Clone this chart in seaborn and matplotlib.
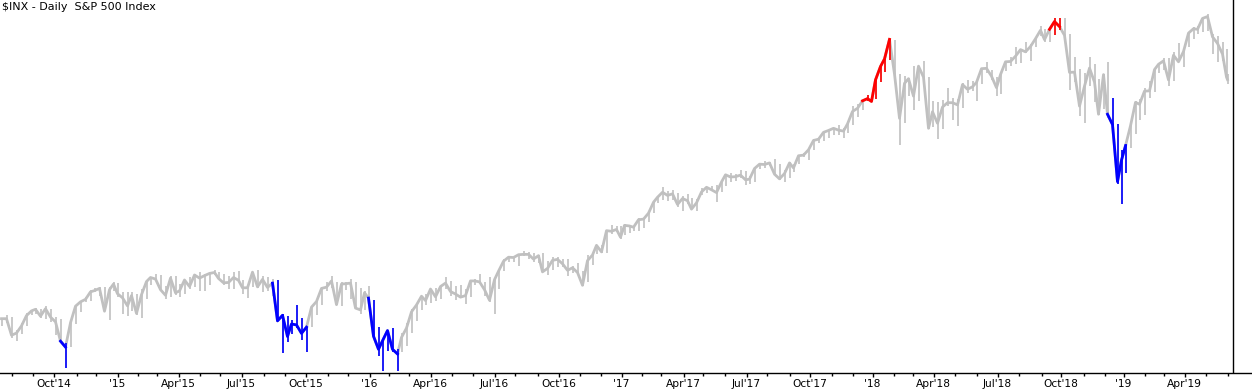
import numpy as np
import pandas as pd
import matplotlib
matplotlib.use("Agg")
import matplotlib.pyplot as plt
import seaborn as sns

# NYSE holidays inside the charted window
holidays = ["2014-09-01", "2014-11-27", "2014-12-25",
            "2015-01-01", "2015-01-19", "2015-02-16", "2015-04-03", "2015-05-25", "2015-07-03",
            "2015-09-07", "2015-11-26", "2015-12-25",
            "2016-01-01", "2016-01-18", "2016-02-15", "2016-03-25", "2016-05-30", "2016-07-04",
            "2016-09-05", "2016-11-24", "2016-12-26",
            "2017-01-02", "2017-01-16", "2017-02-20", "2017-04-14", "2017-05-29", "2017-07-04",
            "2017-09-04", "2017-11-23", "2017-12-25",
            "2018-01-01", "2018-01-15", "2018-02-19", "2018-03-30", "2018-05-28", "2018-07-04",
            "2018-09-03", "2018-11-22", "2018-12-05", "2018-12-25",
            "2019-01-01", "2019-01-21", "2019-02-18", "2019-04-19", "2019-05-27"]
first_day = "2014-07-17"

# weekly closes (Friday, or last trading day of the week)
close_2014 = [1978, 1978, 1925, 1932, 1955, 1988, 2003, 2008, 1986, 2010, 1983, 1968,
              1906, 1887, 1965, 2018, 2032, 2040, 2064, 2068, 2075, 2002, 2071, 2089]
close_2015 = [2058, 2045, 2019, 2052, 1995, 2055, 2097, 2110, 2105, 2071, 2053, 2108, 2061,
              2067, 2102, 2081, 2118, 2108, 2116, 2123, 2126, 2107, 2093, 2094, 2110, 2101,
              2077, 2077, 2127, 2080, 2104, 2078, 2092, 1971, 1989, 1921, 1961, 1958, 1931,
              1951, 2015, 2033, 2075, 2079, 2099, 2023, 2089, 2090, 2092, 2012, 2006, 2061]
close_2016 = [2044, 1922, 1880, 1907, 1940, 1880, 1865, 1918, 1948, 2000, 2022, 2050, 2036,
              2073, 2048, 2081, 2092, 2065, 2057, 2047, 2052, 2099, 2099, 2096, 2071, 2037,
              2103, 2130, 2162, 2175, 2174, 2183, 2184, 2184, 2169, 2180, 2128, 2139, 2165,
              2168, 2154, 2133, 2141, 2126, 2085, 2164, 2182, 2213, 2192, 2260, 2258, 2264, 2239]
close_2017 = [2277, 2275, 2271, 2295, 2297, 2316, 2351, 2367, 2383, 2373, 2378, 2344, 2363,
              2356, 2329, 2349, 2384, 2399, 2391, 2382, 2416, 2439, 2432, 2433, 2438, 2423,
              2425, 2459, 2473, 2472, 2477, 2441, 2426, 2443, 2477, 2461, 2500, 2502, 2519,
              2549, 2553, 2575, 2581, 2588, 2582, 2579, 2602, 2642, 2652, 2676, 2683, 2674]
close_2018 = [2743, 2786, 2810, 2873, 2762, 2620, 2732, 2747, 2691, 2787, 2752, 2588, 2641,
              2604, 2656, 2670, 2670, 2663, 2728, 2713, 2721, 2735, 2779, 2780, 2755, 2718,
              2760, 2801, 2802, 2819, 2840, 2833, 2850, 2875, 2902, 2872, 2905, 2930, 2914,
              2886, 2767, 2768, 2659, 2723, 2781, 2736, 2633, 2760, 2633, 2600, 2417, 2486]
close_2019 = [2532, 2596, 2671, 2665, 2707, 2708, 2776, 2793, 2804, 2743, 2822, 2801, 2834,
              2893, 2907, 2905, 2940, 2946, 2881, 2860, 2826, 2752, 2744]

high_2014 = [1981, 1991, 1985, 1943, 1964, 1995, 2005, 2011, 2008, 2019, 2009, 1985,
             1978, 1899, 1965, 2018, 2034, 2046, 2071, 2076, 2079, 2078, 2078, 2094]
high_2015 = [2091, 2064, 2064, 2065, 2058, 2072, 2097, 2111, 2120, 2118, 2083, 2115, 2115,
             2090, 2103, 2112, 2121, 2126, 2121, 2124, 2135, 2126, 2122, 2115, 2127, 2130,
             2102, 2084, 2129, 2133, 2114, 2113, 2105, 2103, 1993, 1987, 1975, 2021, 1980,
             1951, 2020, 2034, 2080, 2094, 2116, 2095, 2097, 2094, 2104, 2094, 2077, 2067]
high_2016 = [2082, 2038, 1950, 1909, 1940, 1947, 1882, 1931, 1963, 2009, 2022, 2052, 2057,
             2074, 2075, 2083, 2111, 2100, 2083, 2085, 2072, 2101, 2105, 2121, 2097, 2113,
             2104, 2132, 2169, 2176, 2177, 2183, 2194, 2193, 2188, 2183, 2188, 2163, 2175,
             2175, 2170, 2169, 2148, 2155, 2131, 2182, 2190, 2213, 2214, 2260, 2278, 2274, 2274]
high_2017 = [2282, 2279, 2276, 2301, 2299, 2319, 2351, 2368, 2401, 2388, 2390, 2382, 2370,
             2378, 2366, 2361, 2398, 2399, 2404, 2407, 2419, 2440, 2446, 2441, 2454, 2450,
             2435, 2464, 2478, 2484, 2480, 2491, 2475, 2455, 2480, 2472, 2500, 2509, 2519,
             2553, 2558, 2575, 2583, 2588, 2597, 2590, 2604, 2658, 2665, 2680, 2695, 2692]
high_2018 = [2743, 2788, 2810, 2873, 2870, 2763, 2754, 2748, 2789, 2787, 2802, 2752, 2675,
             2672, 2680, 2717, 2684, 2683, 2733, 2742, 2739, 2737, 2780, 2801, 2775, 2753,
             2763, 2805, 2817, 2848, 2842, 2863, 2858, 2876, 2917, 2906, 2908, 2941, 2940,
             2940, 2889, 2817, 2779, 2766, 2815, 2795, 2747, 2761, 2800, 2685, 2601, 2520]
high_2019 = [2538, 2598, 2675, 2681, 2717, 2739, 2776, 2794, 2813, 2813, 2831, 2860, 2836,
             2893, 2911, 2916, 2940, 2954, 2891, 2885, 2863, 2841, 2763]

low_2014 = [1956, 1965, 1916, 1905, 1928, 1955, 1991, 1994, 1980, 1978, 1966, 1926,
            1905, 1821, 1887, 1962, 2001, 2030, 2034, 2065, 2050, 2002, 1973, 2067]
low_2015 = [2046, 1992, 1988, 2004, 1989, 1981, 2042, 2085, 2103, 2066, 2040, 2046, 2055,
            2046, 2058, 2072, 2079, 2068, 2068, 2086, 2118, 2105, 2086, 2072, 2072, 2101,
            2056, 2044, 2080, 2077, 2064, 2068, 2052, 1971, 1867, 1903, 1930, 1948, 1909,
            1872, 1950, 1991, 2022, 2067, 2077, 2022, 2019, 2070, 2042, 2012, 1993, 2005]
low_2016 = [2044, 1918, 1858, 1812, 1873, 1872, 1810, 1871, 1891, 1932, 1969, 2007, 2022,
            2029, 2034, 2040, 2072, 2052, 2039, 2043, 2026, 2047, 2085, 2091, 2050, 2032,
            1992, 2074, 2132, 2159, 2159, 2148, 2178, 2168, 2159, 2157, 2128, 2119, 2133,
            2145, 2143, 2115, 2124, 2119, 2084, 2097, 2151, 2186, 2187, 2187, 2248, 2255, 2234]
low_2017 = [2245, 2254, 2259, 2258, 2267, 2289, 2315, 2348, 2358, 2355, 2359, 2336, 2322,
            2345, 2328, 2322, 2374, 2380, 2387, 2353, 2383, 2403, 2416, 2418, 2428, 2406,
            2408, 2416, 2457, 2460, 2466, 2438, 2421, 2417, 2428, 2447, 2475, 2497, 2488,
            2520, 2541, 2548, 2557, 2566, 2566, 2557, 2574, 2600, 2625, 2648, 2676, 2674]
low_2018 = [2682, 2736, 2769, 2808, 2760, 2533, 2605, 2692, 2647, 2676, 2741, 2586, 2593,
            2554, 2586, 2660, 2613, 2595, 2652, 2702, 2707, 2677, 2731, 2764, 2743, 2692,
            2699, 2771, 2789, 2795, 2796, 2830, 2802, 2848, 2885, 2864, 2864, 2887, 2903,
            2874, 2711, 2737, 2628, 2604, 2725, 2671, 2631, 2649, 2622, 2583, 2409, 2347]
low_2019 = [2444, 2525, 2570, 2613, 2631, 2684, 2704, 2765, 2775, 2722, 2741, 2800, 2785,
            2849, 2873, 2891, 2896, 2901, 2825, 2801, 2805, 2751, 2729]

# weeks where the indicator paints the bars
blue_weeks = ["2014-10-17",
              "2015-08-21", "2015-08-28", "2015-09-04", "2015-09-11", "2015-09-18",
              "2015-09-25", "2015-10-02",
              "2016-01-08", "2016-01-15", "2016-01-22", "2016-01-29", "2016-02-05", "2016-02-12",
              "2018-12-14", "2018-12-21", "2018-12-28", "2019-01-04"]
red_weeks = ["2017-12-22", "2017-12-29", "2018-01-05", "2018-01-12", "2018-01-19", "2018-01-26",
             "2018-09-21", "2018-09-28"]

fridays = list(pd.date_range("2014-07-18", "2019-05-31", freq="W-FRI").strftime("%Y-%m-%d")) + ["2019-06-03"]
df = pd.DataFrame({
    "week": fridays,
    "close": close_2014 + close_2015 + close_2016 + close_2017 + close_2018 + close_2019,
    "high": high_2014 + high_2015 + high_2016 + high_2017 + high_2018 + high_2019,
    "low": low_2014 + low_2015 + low_2016 + low_2017 + low_2018 + low_2019,
})
day = np.busday_offset(df["week"].values.astype("datetime64[D]"), 0, roll="backward", holidays=holidays)
df["x"] = np.busday_count(np.datetime64(first_day), day, holidays=holidays)
df["color"] = "#c0c0c0"
df.loc[df["week"].isin(blue_weeks), "color"] = "#0000ff"
df.loc[df["week"].isin(red_weeks), "color"] = "#ff0000"

fig = plt.figure(figsize=(12.52, 3.91), dpi=100)
ax = fig.add_axes([0, 18 / 391, 1, 373 / 391])

sns.lineplot(data=df, x="x", y="close", color="#c0c0c0", lw=2.0, ax=ax)
ax.vlines(df["x"], df["low"], df["high"], colors="#c0c0c0", lw=1.2)

# painted runs drawn over the gray
for col in ["#0000ff", "#ff0000"]:
    flag = (df["color"] == col).values
    run_id = np.cumsum(np.r_[True, flag[1:] != flag[:-1]])
    for rid in np.unique(run_id[flag]):
        idx = np.where(run_id == rid)[0]
        seg = df.iloc[max(idx[0] - 1, 0):idx[-1] + 1]
        sns.lineplot(data=seg, x="x", y="close", color=col, lw=2.0, ax=ax)
        part = df.iloc[idx]
        ax.vlines(part["x"], part["low"], part["high"], colors=col, lw=1.2)

ax.set_xlim(-0.5, 1251.5)
ax.set_ylim(1804, 2999)
ax.axvline(1232, color="black", lw=1)

# month ticks on the trading-day axis
months = pd.date_range("2014-08-01", "2019-06-01", freq="MS")
starts = np.busday_offset(months.values.astype("datetime64[D]"), 0, roll="forward", holidays=holidays)
mpos = np.busday_count(np.datetime64(first_day), starts, holidays=holidays)
major_pos, major_lab, minor_pos = [], [], []
for m, p in zip(months, mpos):
    if m.month in (1, 4, 7, 10):
        major_pos.append(p)
        major_lab.append("'" + m.strftime("%y") if m.month == 1 else m.strftime("%b'%y"))
    else:
        minor_pos.append(p)
ax.set_xticks(major_pos)
ax.set_xticklabels(major_lab, fontsize=7.7, family="DejaVu Sans")
ax.set_xticks(minor_pos, minor=True)
ax.tick_params(axis="x", which="major", length=3, width=1, pad=1.5, color="black")
ax.tick_params(axis="x", which="minor", length=2, width=1, color="black")
ax.set_yticks([])
ax.set_xlabel("")
ax.set_ylabel("")
for s in ["left", "top", "right"]:
    ax.spines[s].set_visible(False)
ax.spines["bottom"].set_color("black")
ax.spines["bottom"].set_linewidth(1)

fig.text(0.0015, 0.995, r"\$INX - Daily  S&P 500 Index", ha="left", va="top",
         fontsize=8, family="DejaVu Sans", color="black")

fig.savefig("out.png", dpi=100)
